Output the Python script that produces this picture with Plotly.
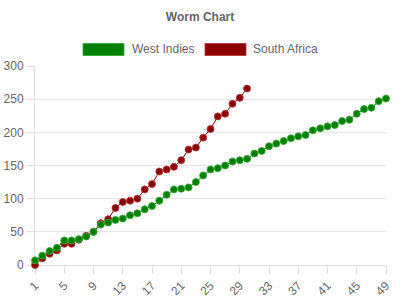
import plotly.graph_objects as go

overs = list(range(1, 50))
west_indies = [7, 14, 21, 26, 37, 37, 39, 43, 50, 61, 64, 68, 70, 75, 78,
               84, 89, 97, 106, 114, 115, 117, 125, 135, 144, 146, 150, 156, 158, 160,
               168, 172, 179, 183, 187, 191, 194, 196, 203, 206, 209, 211, 217, 219, 228,
               235, 237, 247, 251]
south_africa = [0, 10, 17, 22, 32, 32, 38, 44, 50, 63, 69, 86, 95, 97, 100,
                114, 122, 141, 144, 148, 158, 174, 177, 192, 205, 224, 228, 243, 252, 266]
tick_vals = list(range(1, 50, 4))
# drawn in reverse so West Indies sits on top
series = [("South Africa", south_africa, "#8b0000", "rgba(180,60,60,0.9)"),
          ("West Indies", west_indies, "#008000", "rgba(60,170,60,0.9)")]

fig = go.Figure()
for name, vals, col, edge in series:
    fig.add_trace(go.Scatter(
        x=overs[:len(vals)], y=vals, name=name, mode="lines+markers",
        line=dict(color=col, width=1),
        marker=dict(color=col, size=7, line=dict(color=edge, width=1)),
        cliponaxis=False, showlegend=False))

L, R, T, B = 35, 386, 66, 265
W, H = 400, 300
def px(x):
    return (x - L) / (R - L)
def py(y):
    return (B - y) / (B - T)

# custom legend (box swatches)
legend = [("West Indies", 83, 130, "#008000", "rgba(60,170,60,0.9)"),
          ("South Africa", 205, 251, "#8b0000", "rgba(180,60,60,0.9)")]
for name, x0, tx, col, edge in legend:
    fig.add_shape(type="rect", xref="paper", yref="paper",
                  x0=px(x0), x1=px(x0 + 41), y0=py(55.5), y1=py(43.5),
                  fillcolor=col, line=dict(color=edge, width=1))
    fig.add_annotation(xref="paper", yref="paper", x=px(tx), y=py(49.5),
                       text=name, showarrow=False, xanchor="left", yanchor="middle",
                       font=dict(family="Liberation Sans, Arial", size=12, color="#666"))

fig.update_layout(
    width=W, height=H,
    margin=dict(l=L, r=W - R, t=T, b=H - B, autoexpand=False),
    paper_bgcolor="white", plot_bgcolor="white",
    title=dict(text="<b>Worm Chart</b>", x=0.5, xanchor="center", y=1 - 17 / H, yanchor="middle",
               font=dict(family="Liberation Sans, Arial", size=12, color="#666")),
    font=dict(family="Liberation Sans, Arial", size=12, color="#666"),
    xaxis=dict(range=[1, 49], tickvals=tick_vals, tickangle=-45, showgrid=False,
               ticks="outside", ticklen=8, tickcolor="#e0e0e0", showline=True,
               linecolor="#e0e0e0", zeroline=False, automargin=False, layer="below traces",
               tickfont=dict(size=12, color="#666")),
    yaxis=dict(range=[0, 300], dtick=50, gridcolor="#e6e6e6", ticks="outside",
               ticklen=8, tickcolor="#e0e0e0", showline=True, linecolor="#e0e0e0",
               zeroline=False, automargin=False, layer="below traces",
               tickfont=dict(size=12, color="#666")),
)
fig.write_html("out.html")
